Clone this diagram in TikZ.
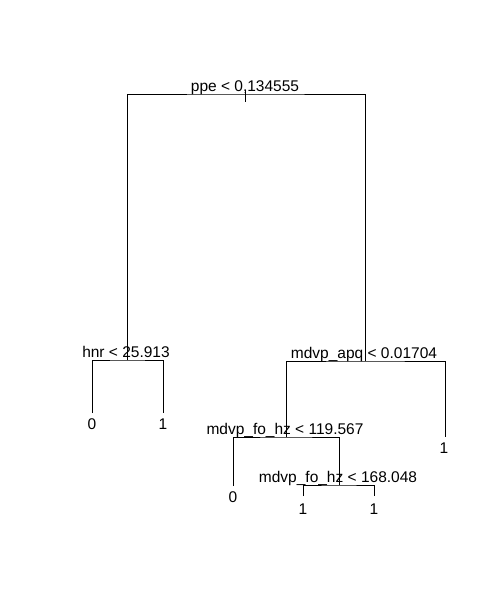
\documentclass[tikz,border=0pt]{standalone}
\usepackage{fontspec}
\setmainfont{Liberation Sans}
\begin{document}
\begin{tikzpicture}[x=1pt,y=-1pt,line width=1pt,
  edge/.style={draw=black,line width=1pt},
  lab/.style={anchor=base,inner sep=0pt,font=\fontsize{15.5}{18}\selectfont},
  leaf/.style={anchor=base,inner sep=0pt,font=\fontsize{15.5}{18}\selectfont}]
\useasboundingbox[fill=white] (0,0) rectangle (499,611);
% split points
\coordinate (root) at (245,94);
\coordinate (hnr) at (127,360);
\coordinate (apq) at (365,361);
\coordinate (foA) at (286,437);
\coordinate (foB) at (339,485);
% leaf ends
\coordinate (lA) at (92,413);
\coordinate (lB) at (163,413);
\coordinate (rA) at (445,437);
\coordinate (fA) at (233,486);
\coordinate (gA) at (303,496);
\coordinate (gB) at (374,496);
% root tick
\coordinate (tickT) at (245,90);
\coordinate (tickB) at (245,102);
\draw[edge] (tickT) -- (tickB);
% tree edges
\draw[edge] (hnr) |- (root) -| (apq);
\draw[edge] (lA) |- (hnr) -| (lB);
\draw[edge] (foA) |- (apq) -| (rA);
\draw[edge] (fA) |- (foA) -| (foB);
\draw[edge] (gA) |- (foB) -| (gB);
% split labels
\node[lab] (t0) at (245,91) {ppe < 0,134555};
\node[lab] (t1) at (126,357) {hnr < 25.913};
\node[lab] (t2) at (364,358) {mdvp\_apq < 0.01704};
\node[lab] (t3) at (285,434) {mdvp\_fo\_hz < 119.567};
\node[lab] (t4) at (338,482) {mdvp\_fo\_hz < 168.048};
% leaf labels
\node[leaf] (n1) at (92,429.5) {0};
\node[leaf] (n2) at (163,429.5) {1};
\node[leaf] (n3) at (444,453) {1};
\node[leaf] (n4) at (233,502.5) {0};
\node[leaf] (n5) at (303,514.5) {1};
\node[leaf] (n6) at (374,514.5) {1};
\end{tikzpicture}
\end{document}
